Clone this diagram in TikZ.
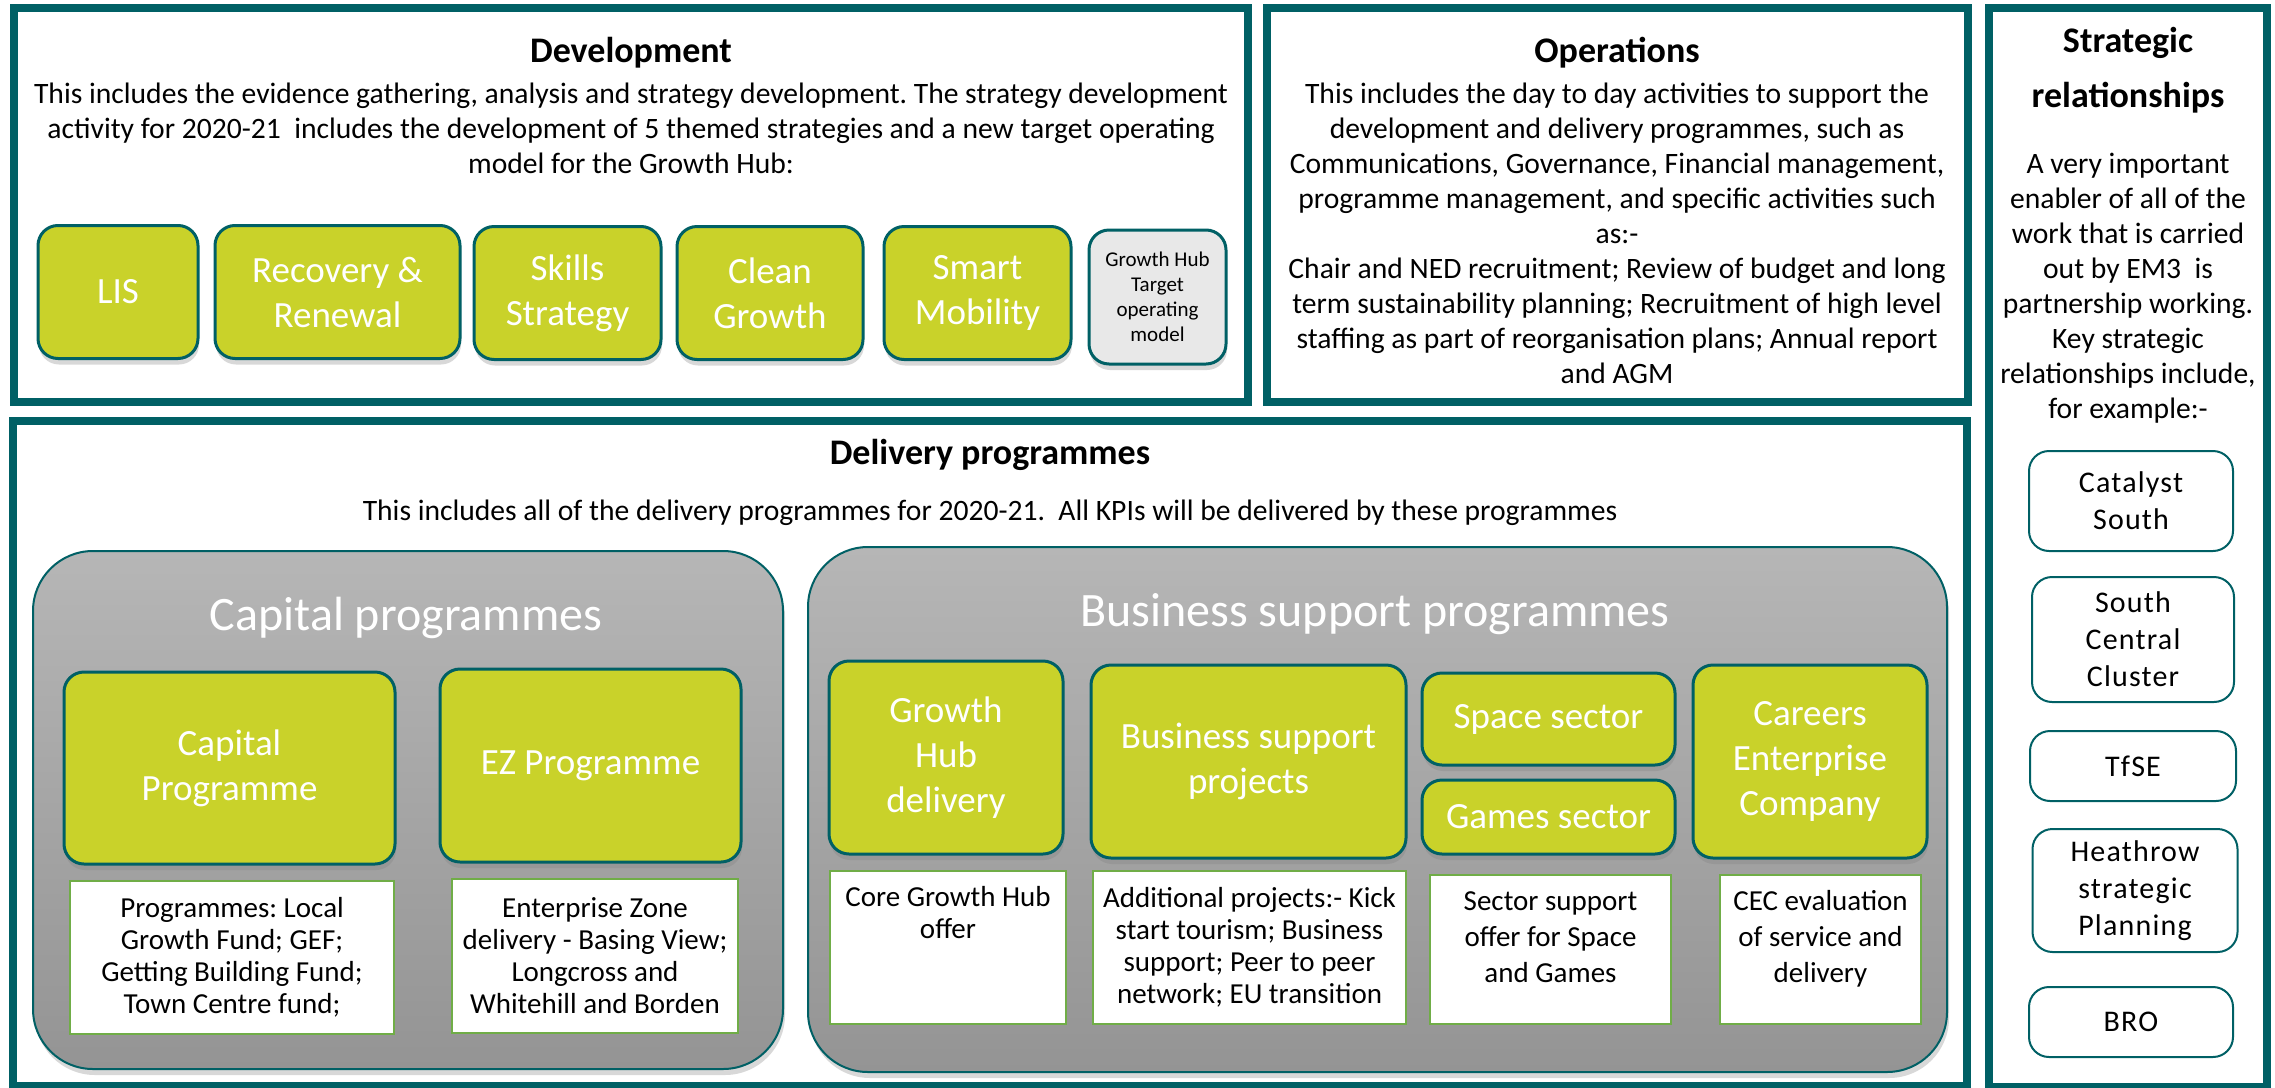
\documentclass[tikz,border=0pt]{standalone}
\usepackage{fontspec}
\setmainfont{Carlito}
\newfontfamily\partnerfont{Carlito}[LetterSpace=4]
\frenchspacing
\usetikzlibrary{shadows}
\definecolor{emteal}{RGB}{0,96,101}
\definecolor{emgreen}{RGB}{201,210,42}
\definecolor{emleaf}{RGB}{112,173,71}
\definecolor{emgreytop}{RGB}{182,182,182}
\definecolor{emgreybot}{RGB}{148,148,148}
\definecolor{emmist}{RGB}{232,232,232}
\tikzset{
  panelframe/.style={draw=emteal, line width=4pt, fill=white},
  headline/.style={font=\bfseries\fontsize{18}{27.5}\selectfont, align=center, anchor=base},
  bodytext/.style={font=\fontsize{14.8}{17.5}\selectfont, align=center, anchor=base},
  boxsize/.style 2 args={minimum width=#1*0.5pt, minimum height=#2*0.5pt},
  themebox/.style={rectangle, rounded corners=10pt, draw=emteal, line width=1.5pt,
    fill=emgreen, text=white, font=\fontsize{18.5}{22.5}\selectfont, align=center,
    inner sep=2pt, drop shadow={shadow xshift=0.5pt, shadow yshift=-3pt, opacity=0.3}},
  programmegroup/.style={rectangle, rounded corners=30pt, draw=emteal, line width=1pt,
    top color=emgreytop, bottom color=emgreybot,
    drop shadow={shadow xshift=1pt, shadow yshift=-3pt, opacity=0.3}},
  grouptitle/.style={text=white, font=\fontsize{24}{28}\selectfont, anchor=base},
  detailbox/.style={rectangle, draw=emleaf, line width=1pt, fill=white,
    font=\fontsize{14.5}{16}\selectfont, align=center, inner sep=2pt},
  partnerbox/.style={rectangle, rounded corners=10pt, draw=emteal, line width=1pt,
    fill=white, font=\partnerfont\fontsize{15}{18.5}\selectfont, align=center, inner sep=2pt}
}
\begin{document}
\begin{tikzpicture}[x=0.5pt,y=-0.5pt]
  \useasboundingbox (0,0) rectangle (2275,1087);
  % development
  \draw[panelframe] (14,8) rectangle (1248,402);
  \node[headline] (devhead) at (631,62) {Development};
  \node[bodytext] (devtext) at (631,173) {This includes the evidence gathering, analysis and strategy development. The strategy development\\
    activity for 2020-21\ \ includes the development of 5 themed strategies and a new target operating\\
    model for the Growth Hub:};
  \node[themebox, boxsize={160}{133}] (lis) at (118,292) {LIS};
  \node[themebox, boxsize={245}{133}] (recovery) at (337.5,292) {Recovery \&\\Renewal};
  \node[themebox, boxsize={187}{133}] (skills) at (567.5,293) {Skills\\Strategy};
  \node[themebox, boxsize={186}{133}] (clean) at (770,293) {Clean\\Growth};
  \node[themebox, boxsize={187}{133}] (mobility) at (977.5,293) {Smart\\Mobility};
  \node[themebox, boxsize={137}{134}, fill=emmist, text=black,
    font=\fontsize{10.5}{12.5}\selectfont] (target) at (1157.5,297) {Growth Hub\\Target\\operating\\model};
  % operations
  \draw[panelframe] (1267,8) rectangle (1968,402);
  \node[headline] (opshead) at (1617,62) {Operations};
  \node[bodytext] (opstext) at (1617,383) {This includes the day to day activities to support the\\
    development and delivery programmes, such as\\
    Communications, Governance, Financial management,\\
    programme management, and specific activities such\\
    as:-\\
    Chair and NED recruitment; Review of budget and long\\
    term sustainability planning; Recruitment of high level\\
    staffing as part of reorganisation plans; Annual report\\
    and AGM};
  % strategic relationships
  \draw[panelframe] (1989,8) rectangle (2267,1087);
  \node[headline] (relhead) at (2128,107) {Strategic\\relationships};
  \node[bodytext] (reltext) at (2128,418) {A very important\\
    enabler of all of the\\
    work that is carried\\
    out by EM3\ \ is\\
    partnership working.\\
    Key strategic\\
    relationships include,\\
    for example:-};
  \node[partnerbox, boxsize={204}{100}] (catalyst) at (2131,501) {Catalyst\\South};
  \node[partnerbox, boxsize={202}{125}] (cluster) at (2133,639.5) {South\\Central\\Cluster};
  \node[partnerbox, boxsize={206}{70}] (tfse) at (2133,766) {TfSE};
  \node[partnerbox, boxsize={205}{123}] (heathrow) at (2135,890.5) {Heathrow\\strategic\\Planning};
  \node[partnerbox, boxsize={204}{70}] (bro) at (2131,1022) {BRO};
  % delivery programmes
  \draw[panelframe] (13,421) rectangle (1967,1086);
  \node[headline] (delhead) at (990,464) {Delivery programmes};
  \node[bodytext] (deltext) at (990,520) {This includes all of the delivery programmes for 2020-21.\ \ All KPIs will be delivered by these programmes};
  \node[programmegroup, boxsize={750}{518}] (capgroup) at (408,810) {};
  \node[grouptitle] (captitle) at (406,630) {Capital programmes};
  \node[themebox, boxsize={331}{192}] (capital) at (229.5,768) {Capital\\Programme};
  \node[themebox, boxsize={301}{193}] (ez) at (590.5,765.5) {EZ Programme};
  \node[detailbox, boxsize={324}{153}] (capdetail) at (232,957.5) {Programmes: Local\\
    Growth Fund; GEF;\\Getting Building Fund;\\Town Centre fund;};
  \node[detailbox, boxsize={286}{154}] (ezdetail) at (595,956) {Enterprise Zone\\
    delivery - Basing View;\\Longcross and\\Whitehill and Borden};
  \node[programmegroup, boxsize={1139}{525}] (busgroup) at (1377.5,809.5) {};
  \node[grouptitle] (bustitle) at (1375,626) {Business support programmes};
  \node[themebox, boxsize={234}{193}] (hub) at (946,757.5) {Growth\\Hub\\delivery};
  \node[themebox, boxsize={315}{193}] (projects) at (1248.5,761.5) {Business support\\projects};
  \node[themebox, boxsize={253}{92}] (space) at (1548.5,719) {Space sector};
  \node[themebox, boxsize={253}{74}] (games) at (1548.5,817) {Games sector};
  \node[themebox, boxsize={234}{193}] (careers) at (1810,761.5) {Careers\\Enterprise\\Company};
  \node[detailbox, boxsize={236}{153}, text height=31.5pt, text depth=41pt] (hubdetail) at (948,947.5) {Core Growth Hub\\offer};
  \node[detailbox, boxsize={313}{153}] (projdetail) at (1249.5,947.5) {Additional projects:- Kick\\
    start tourism; Business\\support; Peer to peer\\network; EU transition};
  \node[detailbox, boxsize={241}{149}, font=\fontsize{14.5}{18}\selectfont,
    text height=51.5pt, text depth=19pt] (sectordetail) at (1550.5,949.5) {Sector support\\
    offer for Space\\and Games};
  \node[detailbox, boxsize={201}{149}, font=\fontsize{14.5}{18}\selectfont,
    text height=51.5pt, text depth=19pt] (cecdetail) at (1820.5,949.5) {CEC evaluation\\
    of service and\\delivery};
\end{tikzpicture}
\end{document}
